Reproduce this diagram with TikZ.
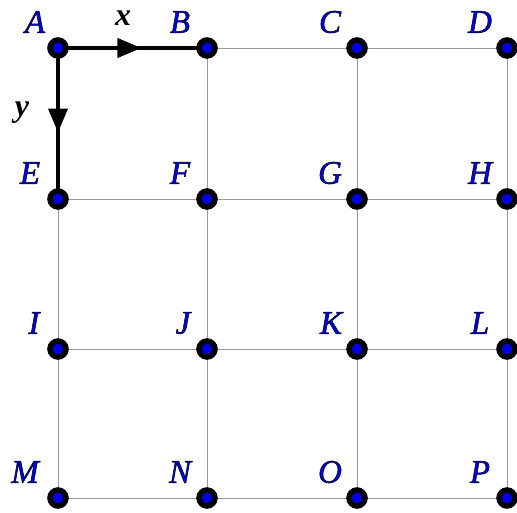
\documentclass[tikz,border=0pt]{standalone}
\usepackage{fontspec}
\setmainfont{Liberation Serif}
\usetikzlibrary{arrows.meta,decorations.markings}
\definecolor{ptblue}{RGB}{0,0,230}
\newcommand{\outl}[1]{\special{pdf:literal direct 2 Tr 0.5 w 0 0 0 RG}#1\special{pdf:literal direct 0 Tr}}
\begin{document}
\begin{tikzpicture}[x=1pt,y=-1pt,
  gridline/.style={draw=black!40,line width=0.9pt},
  axisline/.style={line width=3.8pt,line cap=butt},
  midarrow/.style={postaction={decorate},decoration={markings,mark=at position 0.56 with {\arrow{Triangle[length=24pt,width=19pt]}}}},
  pt/.style={circle,fill=ptblue,draw=black,line width=5.5pt,inner sep=0pt,minimum size=16pt},
  lbl/.style={text=ptblue,font=\fontsize{33}{33}\selectfont\itshape,inner sep=0pt},
  axlbl/.style={font=\fontsize{32}{32}\selectfont\bfseries\itshape,inner sep=0pt}]
\useasboundingbox (0,0) rectangle (517,513);
\foreach \n/\x/\y in {A/58/48,B/207/48,C/357/48,D/507/48,E/58/199,F/207/199,G/357/199,H/507/199,I/58/349,J/207/349,K/357/349,L/507/349,M/58/498,N/207/498,O/357/498,P/507/498}
  \coordinate (\n) at (\x,\y);
% grid
\draw[gridline] (A) -- (D) (E) -- (H) (I) -- (L) (M) -- (P);
\draw[gridline] (A) -- (M) (B) -- (N) (C) -- (O) (D) -- (P);
% axes
\draw[axisline,midarrow] (A) -- (B);
\draw[axisline,midarrow] (A) -- (E);
\node[axlbl] (xl) at (123,18) {x};
\node[axlbl] (yl) at (22,113) {y};
% points
\foreach \n in {A,B,C,D,E,F,G,H,I,J,K,L,M,N,O,P}
  \node[pt] (p\n) at (\n) {};
% labels
\foreach \n/\dx in {A/-23,B/-27,C/-27,D/-27,E/-28,F/-27,G/-27,H/-27,I/-24,J/-24,K/-26,L/-27,M/-33,N/-27,O/-27,P/-27}
  \node[lbl] (l\n) at ([xshift=\dx pt,yshift=26pt]\n) {\outl{\n}};
\end{tikzpicture}
\end{document}
